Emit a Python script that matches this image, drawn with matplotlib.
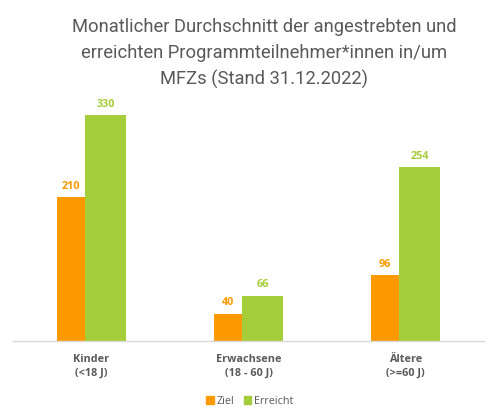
import matplotlib
matplotlib.use("Agg")
import matplotlib.pyplot as plt
import numpy as np
from matplotlib.patches import Patch

categories = ["Kinder\n(<18 J)", "Erwachsene\n(18 - 60 J)", "Ältere\n(>=60 J)"]
ziel = [210, 40, 96]
erreicht = [330, 66, 254]
series_names = ["Ziel", "Erreicht"]
title = "Monatlicher Durchschnitt der angestrebten und\nerreichten Programmteilnehmer*innen in/um\nMFZs (Stand 31.12.2022)"

ORANGE = "#FF9900"
GREEN = "#A5CD39"
GRAY = "#595959"

plt.rcParams['font.family'] = ['Open Sans', 'DejaVu Sans']

fig = plt.figure(figsize=(4.95, 4.16), dpi=100)
ax = fig.add_axes([13/495, 1-341/416, 471/495, 241/416])

x = np.arange(len(categories))
ax.bar(x - 0.22, ziel, width=0.178, align='edge', color=ORANGE)
ax.bar(x - 0.042, erreicht, width=0.262, align='edge', color=GREEN)

for xi, v in zip(x, ziel):
    ax.text(xi - 0.22 + 0.089, v + 8, str(v), ha='center', va='bottom',
            color=ORANGE, fontsize=7.8, fontweight='bold')
for xi, v in zip(x, erreicht):
    ax.text(xi - 0.042 + 0.131, v + 8, str(v), ha='center', va='bottom',
            color=GREEN, fontsize=7.8, fontweight='bold')

ax.set_xlim(-0.5, 2.5)
ax.set_ylim(0, 352)
ax.set_xticks(x)
ax.set_xticklabels(categories, fontsize=7.8, fontweight='bold', color=GRAY, linespacing=1.45)
ax.tick_params(axis='x', length=0, pad=9)
ax.set_yticks([])
for s in ['top', 'right', 'left']:
    ax.spines[s].set_visible(False)
ax.spines['bottom'].set_color('#D9D9D9')
ax.spines['bottom'].set_linewidth(1)

fig.text(264/495, 1-53.5/416, title, ha='center', va='center', fontsize=13.2,
         color=GRAY, linespacing=1.52, family=['Roboto', 'DejaVu Sans'])

handles = [Patch(color=ORANGE, label=series_names[0]), Patch(color=GREEN, label=series_names[1])]
fig.legend(handles=handles, loc='center', bbox_to_anchor=(250/495, 1-401/416), ncol=2,
           frameon=False, fontsize=7.8, handlelength=0.7, handleheight=0.7,
           handletextpad=0.3, columnspacing=0.8, labelcolor=GRAY)

fig.savefig("out.png", dpi=100)
